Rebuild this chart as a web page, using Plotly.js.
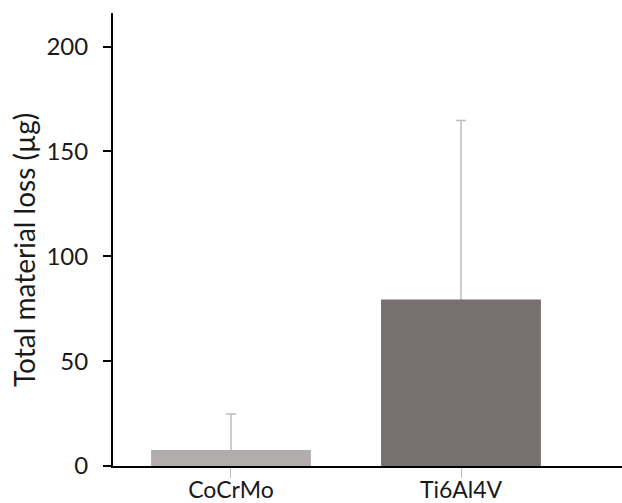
<!DOCTYPE html>
<html>
<head>
<meta charset="utf-8">
<script src="https://cdn.plot.ly/plotly-3.0.1.min.js"></script>
<style>
  html, body { margin: 0; padding: 0; background: #ffffff; }
  #chart { width: 622px; height: 503px; }
</style>
</head>
<body>
<div id="chart"></div>
<script>
// Alloys compared
const alloys = ['CoCrMo', 'Ti6Al4V'];
// Mean total material loss (µg) and its standard deviation
const meanLoss = [7.6, 79.4];
const sdLoss = [17.2, 85.4];
const barColors = ['#b1adac', '#767170'];
const yTicks = [0, 50, 100, 150, 200];
const yTitle = 'Total material loss (µg)';

const font = 'Lato, "Open Sans", sans-serif';
const ink = '#1a1a1a';

const traces = [
  // error bars sit underneath, so only the upper whisker shows above each bar
  {
    type: 'bar',
    x: alloys,
    y: meanLoss,
    marker: { color: 'rgba(0,0,0,0)' },
    error_y: {
      type: 'data',
      array: sdLoss,
      visible: true,
      color: '#bdbdbd',
      thickness: 1.5,
      width: 5
    },
    hoverinfo: 'skip',
    showlegend: false
  },
  {
    type: 'bar',
    x: alloys,
    y: meanLoss,
    marker: { color: barColors, line: { width: 0 } },
    showlegend: false
  }
];

const layout = {
  width: 622,
  height: 503,
  margin: { l: 113, r: 0, t: 13, b: 37 },
  paper_bgcolor: '#ffffff',
  plot_bgcolor: '#ffffff',
  barmode: 'overlay',
  bargap: 0.305,
  font: { family: font, color: ink, size: 23 },
  xaxis: {
    type: 'category',
    range: [-0.513, 1.7],
    showgrid: false,
    zeroline: false,
    showline: true,
    linecolor: '#000000',
    linewidth: 2,
    ticks: 'outside',
    ticklen: 10,
    tickwidth: 1,
    tickcolor: '#bdbdbd',
    ticklabelstandoff: -8,
    tickfont: { family: font, size: 23, color: ink },
    fixedrange: true
  },
  yaxis: {
    range: [0, 216],
    tickvals: yTicks,
    ticktext: yTicks.map(String),
    showgrid: false,
    zeroline: false,
    showline: true,
    linecolor: '#000000',
    linewidth: 2,
    ticks: 'outside',
    ticklen: 8,
    tickwidth: 2,
    tickcolor: '#000000',
    ticklabelstandoff: 10,
    tickfont: { family: font, size: 24, color: ink },
    fixedrange: true
  },
  annotations: [{
    text: yTitle,
    textangle: -90,
    xref: 'paper',
    yref: 'paper',
    x: (24 - 113) / 509,
    y: (466 - 250) / 453,
    xanchor: 'center',
    yanchor: 'middle',
    showarrow: false,
    font: { family: font, size: 28, color: ink }
  }]
};

Plotly.newPlot('chart', traces, layout, { displayModeBar: false, staticPlot: true });
</script>
</body>
</html>
